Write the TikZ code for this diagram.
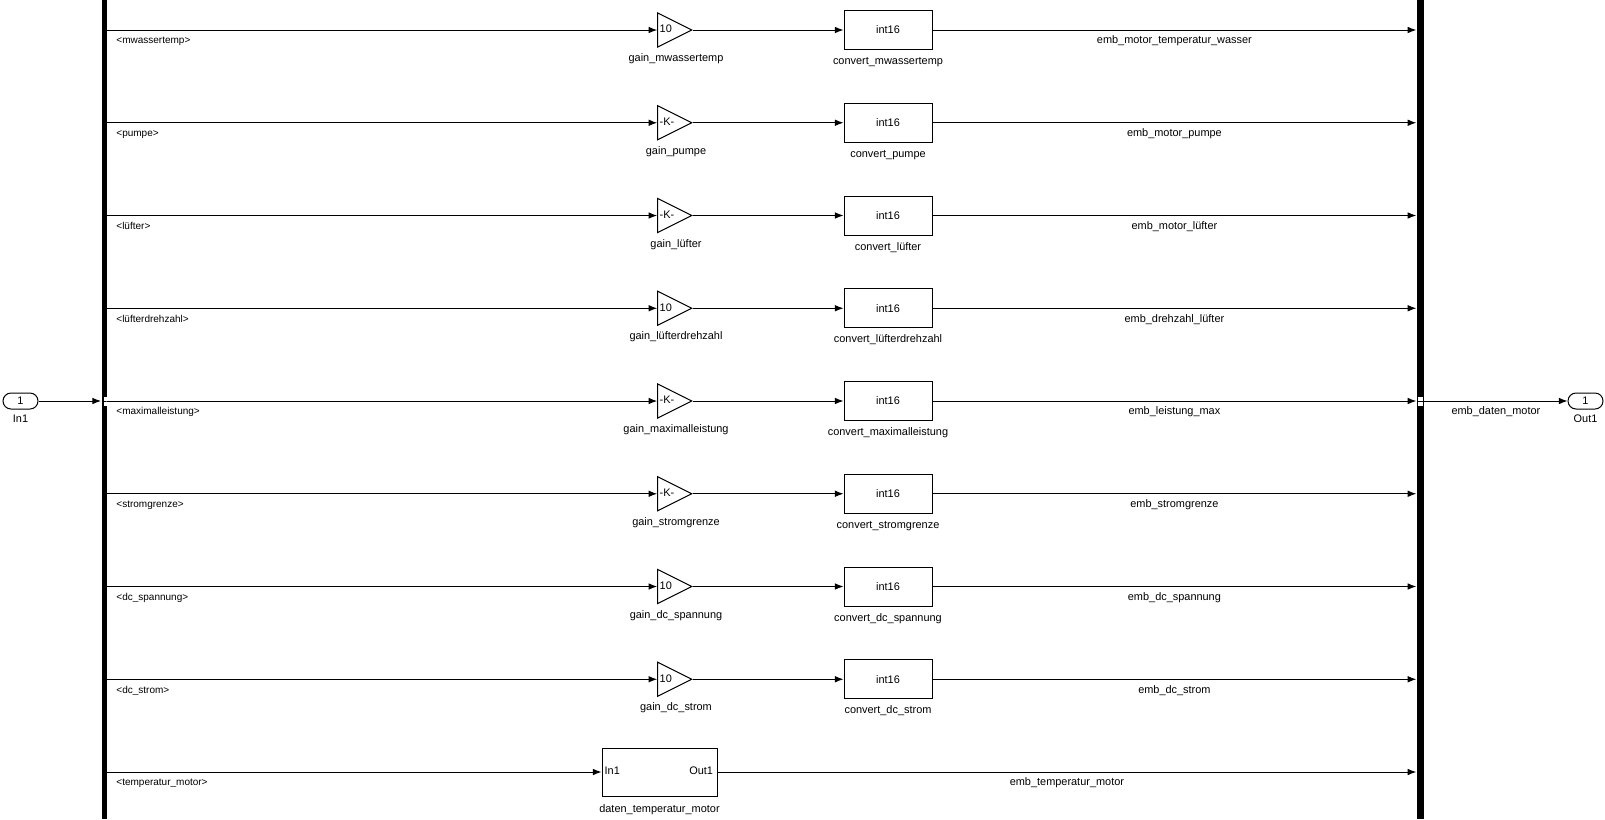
\documentclass[tikz,border=0pt]{standalone}
\usepackage{fontspec}
\setmainfont{Liberation Sans}
\usetikzlibrary{arrows.meta,shapes.geometric,positioning}

\begin{document}
\begin{tikzpicture}[
        x=0.75pt, y=-0.75pt, % one unit is one pixel of the model view
        line width=0.75pt,
        font=\fontsize{8.2pt}{9.8pt}\selectfont,
        sig/.style={draw, -{Latex[length=6.5pt,width=5pt]}},
        bar/.style={fill=black, inner sep=0pt, minimum width=#1, minimum height=614.25pt},
        busmark/.style={fill=white, inner sep=0pt, minimum width=#1, minimum height=6.75pt,
            path picture={\draw[line width=0.6pt] (path picture bounding box.west) -- (path picture bounding box.east);}},
        gainblk/.style={draw, isosceles triangle, isosceles triangle stretches, inner sep=0pt,
            minimum width=25.5pt, minimum height=25.5pt, anchor=apex},
        convblk/.style={draw, rectangle, minimum width=66pt, minimum height=29.25pt},
        port/.style={draw, rounded corners=6pt, minimum width=26.25pt, minimum height=12pt, inner sep=0pt},
        lbl/.style={inner sep=1.5pt, text height=6pt, text depth=1.8pt},
        sname/.style={lbl, font=\fontsize{7.5pt}{9pt}\selectfont},
    ]
    \useasboundingbox (0,0) rectangle (1605,819);

    % bus selector and bus creator bars
    \node[bar=3.75pt] (demux) at (104,409.5) {};
    \node[bar=5.25pt] (mux) at (1420.3,409.5) {};

    % in- and outport
    \node[port] (in1) at (20.5,401) {1};
    \node[lbl, below=2pt of in1] {In1};
    \node[port] (out1) at (1585.5,401) {1};
    \node[lbl, below=2pt of out1] {Out1};
    \node[busmark=2.25pt, anchor=east] at (demux.east |- in1) {};
    \node[busmark=3.75pt] at (mux |- out1) {};
    \draw[sig] (in1) -- (demux.west |- in1);
    \draw[sig] (mux.east |- out1) -- node[lbl, below=2.6pt] {emb\_daten\_motor} (out1);

    % one row per signal: gain, then conversion to int16
    \foreach \i/\src/\k/\dst in {
            0/mwassertemp/10/emb\_motor\_temperatur\_wasser,
            1/pumpe/-K-/emb\_motor\_pumpe,
            2/lüfter/-K-/emb\_motor\_lüfter,
            3/lüfterdrehzahl/10/emb\_drehzahl\_lüfter,
            4/maximalleistung/-K-/emb\_leistung\_max,
            5/stromgrenze/-K-/emb\_stromgrenze,
            6/dc\_spannung/10/emb\_dc\_spannung,
            7/dc\_strom/10/emb\_dc\_strom} {
        \pgfmathsetmacro\y{30+92.75*\i}
        \node[gainblk, label={[lbl, anchor=west]west:\k}] (g\i) at (693,\y) {};
        \node[convblk] (c\i) at (888,\y) {int16};
        \node[lbl, anchor=base] at (676,\y+31.5) {gain\_\src};
        \node[lbl, below=3pt of c\i] {convert\_\src};
        \draw[sig] (demux.east |- g\i.apex) -- node[sname, pos=0, below right=2.6pt and 5.2pt] {<\src>} (g\i);
        \draw[sig] (g\i.apex) -- (c\i);
        \draw[sig] (c\i) -- node[lbl, below=2.6pt] {\dst} (mux.west |- c\i);
    }

    % last row goes through a subsystem
    \node[draw, minimum width=86.25pt, minimum height=36pt,
          label={[lbl, anchor=west, inner sep=2pt]west:In1},
          label={[lbl, anchor=east, inner sep=3pt]east:Out1}] (sub) at (659.5,772) {};
    \node[lbl, below=4pt of sub] {daten\_temperatur\_motor};
    \draw[sig] (demux.east |- sub) -- node[sname, pos=0, below right=2.6pt and 5.2pt] {<temperatur\_motor>} (sub);
    \draw[sig] (sub) -- node[lbl, below=2.6pt] {emb\_temperatur\_motor} (mux.west |- sub);
\end{tikzpicture}
\end{document}
